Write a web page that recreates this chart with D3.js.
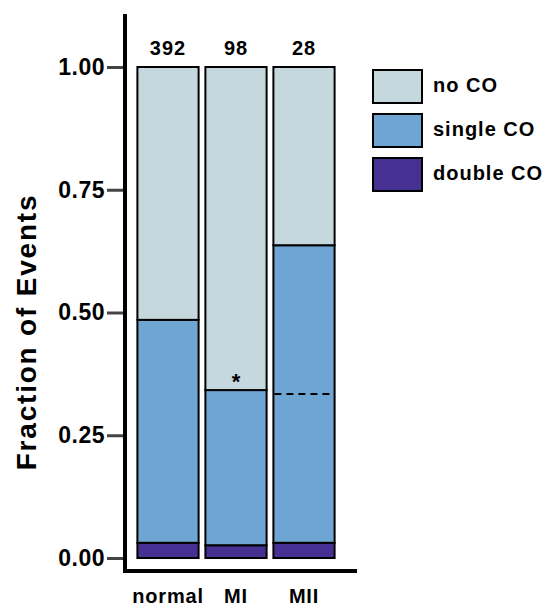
<!DOCTYPE html>
<html>
<head>
<meta charset="utf-8">
<script src="https://cdn.jsdelivr.net/npm/d3@7"></script>
<style>
  body { margin: 0; background: #fff; }
  text { font-family: "Liberation Sans", Arial, Helvetica, sans-serif; font-weight: bold; fill: #000; }
</style>
</head>
<body>
<svg id="chart"></svg>
<script>
var categories = ["normal", "MI", "MII"];
var counts = [392, 98, 28];
var doubleCO = [0.031, 0.026, 0.031];
var singleCO = [0.454, 0.316, 0.606];
var noCO = [0.515, 0.658, 0.363];
var seriesNames = ["no CO", "single CO", "double CO"];
var seriesColors = ["#c5d8de", "#6ea5d3", "#463192"];
var yTicks = [0, 0.25, 0.5, 0.75, 1];
var expectedLine = 0.334; // dashed reference in MII

var width = 548, height = 606;
var svg = d3.select("#chart").attr("width", width).attr("height", height);

var x = d3.scaleBand().domain(categories).range([134, 338]).paddingInner(0.1).paddingOuter(0.05);
var y = d3.scaleLinear().domain([0, 1]).range([558, 67]);

// stacked data, bottom first
var rows = categories.map(function (c, i) {
    return { cat: c, "double CO": doubleCO[i], "single CO": singleCO[i], "no CO": noCO[i] };
});
var stack = d3.stack().keys(["double CO", "single CO", "no CO"]);
var layers = stack(rows);
var color = d3.scaleOrdinal().domain(seriesNames).range(seriesColors);

var g = svg.append("g");
layers.forEach(function (layer) {
    g.selectAll(".seg-" + layer.index)
        .data(layer)
        .enter()
        .append("rect")
        .attr("x", function (d) { return x(d.data.cat); })
        .attr("y", function (d) { return y(d[1]); })
        .attr("width", x.bandwidth())
        .attr("height", function (d) { return y(d[0]) - y(d[1]); })
        .attr("fill", color(layer.key))
        .attr("stroke", "#000")
        .attr("stroke-width", 2);
});

// dashed line in MII
svg.append("line")
    .attr("x1", x("MII") + 1).attr("x2", x("MII") + x.bandwidth() - 1)
    .attr("y1", y(expectedLine)).attr("y2", y(expectedLine))
    .attr("stroke", "#000").attr("stroke-width", 2)
    .attr("stroke-dasharray", "7,5");

// asterisk above MI split
svg.append("text")
    .attr("x", x("MI") + x.bandwidth() / 2)
    .attr("y", y(doubleCO[1] + singleCO[1]) - 1)
    .attr("text-anchor", "middle")
    .attr("font-size", 22)
    .text("*");

// counts on top
svg.selectAll(".count")
    .data(counts)
    .enter()
    .append("text")
    .attr("class", "count")
    .attr("x", function (d, i) { return x(categories[i]) + x.bandwidth() / 2; })
    .attr("y", 55)
    .attr("text-anchor", "middle")
    .attr("font-size", 20)
    .attr("letter-spacing", 1)
    .text(function (d) { return d; });

// y axis
var yAxis = d3.axisLeft(y).tickValues(yTicks).tickFormat(d3.format(".2f")).tickSize(17).tickPadding(2);
var ya = svg.append("g").attr("transform", "translate(124,0)").call(yAxis);
ya.select(".domain").remove();
ya.selectAll(".tick line").attr("stroke", "#444").attr("stroke-width", 3);
ya.selectAll(".tick text").attr("font-size", 23).attr("letter-spacing", 0.5)
    .attr("font-family", "Liberation Sans, Arial, sans-serif").attr("font-weight", "bold").attr("fill", "#000");

// x axis labels
var xAxis = d3.axisBottom(x).tickSize(0).tickPadding(0);
var xa = svg.append("g").attr("transform", "translate(0,603)").call(xAxis);
xa.select(".domain").remove();
xa.selectAll(".tick text").attr("font-size", 20).attr("letter-spacing", 0.8)
    .attr("font-family", "Liberation Sans, Arial, sans-serif").attr("font-weight", "bold").attr("fill", "#000").attr("dy", 0);

// axis lines
svg.append("path")
    .attr("d", "M125,14V571H357")
    .attr("fill", "none")
    .attr("stroke", "#000")
    .attr("stroke-width", 4);

// y title
svg.append("text")
    .attr("transform", "translate(36,332) rotate(-90)")
    .attr("text-anchor", "middle")
    .attr("font-size", 28)
    .attr("letter-spacing", 1.8)
    .text("Fraction of Events");

// legend
var legend = svg.selectAll(".legend")
    .data(seriesNames)
    .enter()
    .append("g")
    .attr("class", "legend")
    .attr("transform", function (d, i) { return "translate(373," + (70 + i * 44) + ")"; });
legend.append("rect")
    .attr("width", 49).attr("height", 33)
    .attr("fill", function (d) { return color(d); })
    .attr("stroke", "#000").attr("stroke-width", 2);
legend.append("text")
    .attr("x", 60).attr("y", 15).attr("dy", "0.35em")
    .attr("font-size", 20)
    .attr("letter-spacing", 1)
    .text(function (d) { return d; });
</script>
</body>
</html>
